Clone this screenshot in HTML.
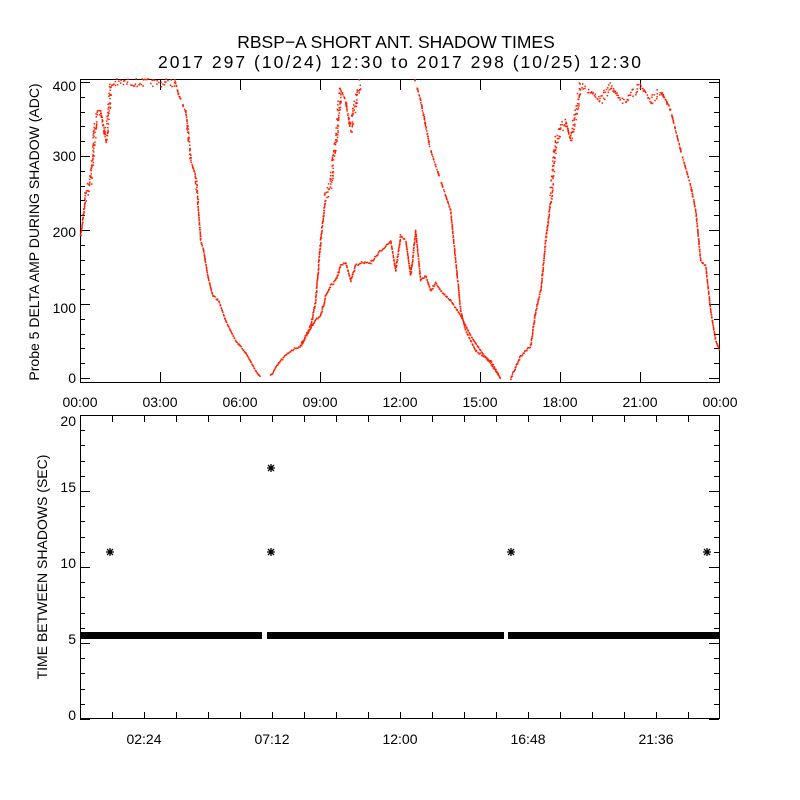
<!DOCTYPE html>
<html><head><meta charset="utf-8"><style>
html,body{margin:0;padding:0;background:#fff}
svg{display:block}
text{font-family:"Liberation Sans","DejaVu Sans",sans-serif;fill:#000}
</style></head><body>
<svg id="s" width="800" height="800" xmlns="http://www.w3.org/2000/svg">
<text x="396" y="48" font-size="17.5" text-anchor="middle">RBSP−A SHORT ANT. SHADOW TIMES</text>
<text x="158" y="68" font-size="17.5" textLength="483" lengthAdjust="spacing">2017 297 (10/24) 12:30 to 2017 298 (10/25) 12:30</text>
<rect x="80.5" y="79.5" width="639" height="303" fill="none" stroke="#000"/>
<rect x="80.5" y="415.5" width="639" height="303" fill="none" stroke="#000"/>
<g id="ax" stroke="#000" stroke-width="1"></g>
<g id="data" fill="#ff2000"></g>
<g font-size="14" text-anchor="end">
<text x="76" y="383">0</text><text x="76" y="313">100</text><text x="76" y="237">200</text><text x="76" y="161">300</text><text x="76" y="91">400</text>
<text x="76" y="720">0</text><text x="76" y="644">5</text><text x="76" y="568">10</text><text x="76" y="492">15</text><text x="76" y="426">20</text>
</g>
<g font-size="14" text-anchor="middle">
<text x="80" y="407">00:00</text><text x="160" y="407">03:00</text><text x="240" y="407">06:00</text><text x="320" y="407">09:00</text><text x="400" y="407">12:00</text><text x="480" y="407">15:00</text><text x="560" y="407">18:00</text><text x="640" y="407">21:00</text><text x="720" y="407">00:00</text>
<text x="144" y="744">02:24</text><text x="272" y="744">07:12</text><text x="400" y="744">12:00</text><text x="528" y="744">16:48</text><text x="656" y="744">21:36</text>
</g>
<text transform="translate(39,232) rotate(-90)" font-size="14" text-anchor="middle">Probe 5 DELTA AMP DURING SHADOW (ADC)</text>
<text transform="translate(47,567) rotate(-90)" font-size="14" text-anchor="middle">TIME BETWEEN SHADOWS (SEC)</text>
<rect x="80" y="632" width="182" height="7" fill="#000"/>
<rect x="267" y="632" width="237" height="7" fill="#000"/>
<rect x="508" y="632" width="212" height="7" fill="#000"/>
<g id="stars" stroke="#000" stroke-width="1.3"></g>
</svg>
<script>
var ax=document.getElementById('ax'),h='';
function L(a,b,c,d){h+='<line x1="'+a+'" y1="'+b+'" x2="'+c+'" y2="'+d+'"/>';}
for(var i=1;i<8;i++){var x=80+80*i+.5;L(x,80,x,90);L(x,382,x,372);}
for(var v=0;v<=400;v+=20){var y=Math.round(378-v*0.74)+.5;var l=(v%100==0)?10:5;L(80,y,80+l,y);L(719,y,719-l,y);}
for(var i=1;i<20;i++){var x=80+32*i+.5;L(x,416,x,422);L(x,718,x,712);}
for(var v=0;v<=20;v++){var y=Math.round(719-v*15.2)+.5;var l=(v%5==0)?10:5;L(80,y,80+l,y);L(719,y,719-l,y);}
ax.innerHTML=h;
var s='';[[110,552],[271,468],[271,552],[511,552],[707,552]].forEach(function(p){var x=p[0],y=p[1];
s+='<path d="M'+(x-4)+' '+y+'h8M'+x+' '+(y-4)+'v8M'+(x-3)+' '+(y-3)+'l6 6M'+(x-3)+' '+(y+3)+'l6 -6"/>';});
document.getElementById('stars').innerHTML=s;
var curves=[
[[80,235],[85,195],[90,180],[95,120],[100,110],[105,140],[110,85],[115,82],[175,82],[178,95],[185,110],[190,160],[195,175],[200,240],[203,250],[207,275],[212,295],[218,300],[225,320],[235,340],[245,352],[255,370],[260,377]],
[[270,375],[280,360],[290,350],[300,345],[310,325],[315,300],[320,240],[325,195],[330,185],[335,140],[340,90],[345,100],[350,130],[355,100],[360,82]],
[[300,345],[310,328],[315,318],[320,316],[325,295],[330,285],[335,280],[340,265],[345,262],[350,280],[355,265],[360,262],[370,262],[380,250],[385,245],[390,240],[395,270],[400,235],[405,240],[410,275],[415,230],[420,280],[425,275],[430,290],[435,282],[440,290],[450,300],[460,315],[470,335],[480,350],[490,363],[500,378]],
[[415,82],[420,100],[430,150],[440,180],[450,210],[455,260],[460,310],[465,330],[475,350],[490,360],[500,378]],
[[510,378],[520,355],[530,345],[535,310],[540,290],[545,240],[550,200],[555,140],[560,130],[565,120],[570,140],[580,85],[590,90],[600,100],[610,85],[620,100],[630,95],[640,85],[650,100],[660,90],[670,110],[680,150],[690,185],[695,210],[700,260],[705,265],[710,310],[715,340],[719,350]]
];
var seed=7;function r(){seed=(seed*16807)%2147483647;return seed/2147483647;}
var d='';
curves.forEach(function(c){for(var k=0;k<c.length-1;k++){var a=c[k],b=c[k+1];var n=Math.max(2,Math.ceil(Math.hypot(b[0]-a[0],b[1]-a[1])/1.2));
for(var j=0;j<n;j++){var t=j/n;var x=a[0]+(b[0]-a[0])*t,y=a[1]+(b[1]-a[1])*t;var jit=(y<200)?(r()-.5)*8:(r()-.5)*2;
d+='<rect x="'+(x+jit*0.3).toFixed(1)+'" y="'+(y+jit).toFixed(1)+'" width="1.5" height="1.5"/>';}}});
document.getElementById('data').innerHTML=d;
</script>
</body></html>
